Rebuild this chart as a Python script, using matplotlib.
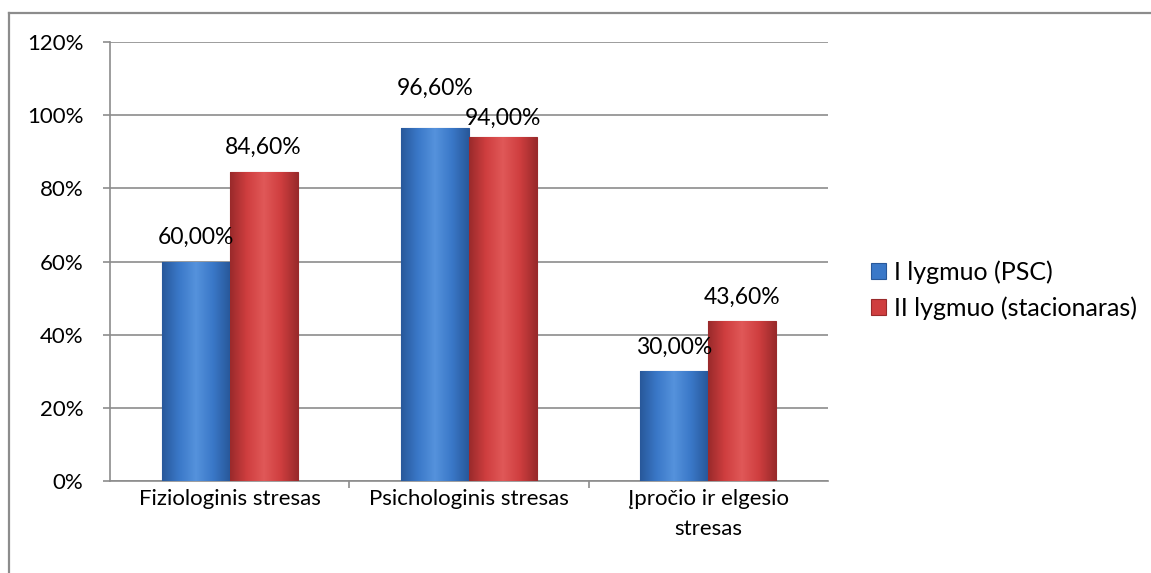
import numpy as np
import matplotlib
matplotlib.use('Agg')
import matplotlib.pyplot as plt
from matplotlib.colors import LinearSegmentedColormap

plt.rcParams['font.family'] = ['Lato', 'DejaVu Sans']

# data
categories = ['Fiziologinis stresas', 'Psichologinis stresas', 'Įpročio ir elgesio\nstresas']
series_names = ['I lygmuo (PSC)', 'II lygmuo (stacionaras)']
level1 = [60.0, 96.6, 30.0]
level2 = [84.6, 94.0, 43.6]
y_ticks = [0, 20, 40, 60, 80, 100, 120]

colors = ['#3a78c8', '#cf3e3f']
dark = ['#28589a', '#992a2b']
light = ['#5592dc', '#e05858']

W, H = 1151, 573
fig = plt.figure(figsize=(W/100, H/100), dpi=100)

# outer chart border: a blank axes whose top/left spines are the frame,
# right/bottom edges lie outside the picture
border_x = 9/W
border_y = 1 - 12.5/H
frame = fig.add_axes([border_x, -0.2, 1.3, border_y + 0.2])
frame.set_xticks([])
frame.set_yticks([])
frame.patch.set_visible(False)
for s in ['right', 'bottom']:
    frame.spines[s].set_visible(False)
for s in ['top', 'left']:
    frame.spines[s].set_color('#8c8c8c')
    frame.spines[s].set_linewidth(1.6)

ax = fig.add_axes([110/W, 1 - 481/H, (828-110)/W, (481-42)/H])

x = np.arange(len(categories))
w = 0.284

def gradient_bars(bars, i):
    cmap = LinearSegmentedColormap.from_list('g', [dark[i], colors[i], light[i], colors[i], dark[i]])
    grad = np.linspace(0, 1, 256).reshape(1, -1)
    for b in bars:
        x0, y0 = b.get_x(), b.get_y()
        im = ax.imshow(grad, cmap=cmap, aspect='auto', zorder=3,
                       extent=[x0, x0 + b.get_width(), y0, y0 + b.get_height()])
        im.set_clip_path(b)

b1 = ax.bar(x - w/2, level1, w, color=colors[0], edgecolor=dark[0], linewidth=0.8, zorder=3)
b2 = ax.bar(x + w/2, level2, w, color=colors[1], edgecolor=dark[1], linewidth=0.8, zorder=3)
gradient_bars(b1, 0)
gradient_bars(b2, 1)

# label offset above bar top (points); middle group labels were nudged apart
nudge = {(1, 0): 11, (1, 1): -4}
for si, (bars, vals) in enumerate(((b1, level1), (b2, level2))):
    for ci, (b, v) in enumerate(zip(bars, vals)):
        dy = 17.5 + nudge.get((ci, si), 0)
        ax.annotate(f'{v:.2f}%'.replace('.', ','), (b.get_x() + b.get_width()/2, v),
                    xytext=(0, dy), textcoords='offset points', ha='center', va='center',
                    fontsize=16.5, color='#000000', zorder=5)

ax.set_xlim(-0.5, 2.5)
ax.set_ylim(0, 120)
ax.set_yticks(y_ticks)
ax.set_yticklabels([f'{t}%' for t in y_ticks], fontsize=16)
ax.set_xticks([0.5, 1.5], minor=True)
ax.set_xticks(x)
ax.set_xticklabels(categories, fontsize=16, linespacing=1.6)
ax.tick_params(axis='x', which='major', length=0, pad=6)
ax.tick_params(axis='x', which='minor', length=5, color='#8c8c8c', width=1.2)
ax.tick_params(axis='y', length=5, color='#8c8c8c', width=1.2, pad=14)

ax.grid(axis='y', color='#8c8c8c', linewidth=1.2, zorder=0)
ax.set_axisbelow(True)
for s in ['top', 'right']:
    ax.spines[s].set_visible(False)
for s in ['left', 'bottom']:
    ax.spines[s].set_color('#8c8c8c')
    ax.spines[s].set_linewidth(1.2)

fig.legend([b1, b2], series_names, loc='center left', bbox_to_anchor=(871/W, 1 - 290/H),
           frameon=False, fontsize=18, handlelength=0.6, handleheight=0.6,
           handletextpad=0.3, labelspacing=0.5, borderpad=0, borderaxespad=0)

fig.savefig('out.png', dpi=100, facecolor='white')
